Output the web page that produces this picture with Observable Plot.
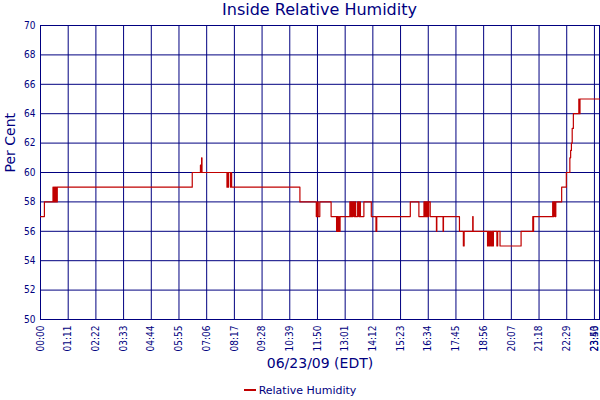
<!DOCTYPE html>
<html><head><meta charset="utf-8">
<script src="https://cdn.jsdelivr.net/npm/d3@7"></script>
<script src="https://cdn.jsdelivr.net/npm/@observablehq/plot@0.6"></script>
<style>
body{margin:0;background:#fff;font-family:"DejaVu Sans",sans-serif;color:#000080;}
#wrap{width:600px;height:400px;overflow:hidden;}
#title{height:20px;line-height:20px;font-size:16px;text-align:center;padding-left:39px;box-sizing:border-box;width:600px;}
#legend{height:20px;display:flex;align-items:center;justify-content:center;font-size:11px;width:600px;}
#legend .sw{width:12px;height:2px;background:#c00000;margin-right:3px;}
svg{overflow:visible;display:block}
</style></head>
<body>
<div id="wrap">
<div id="title">Inside Relative Humidity</div>
<div id="chart"></div>
<div id="legend"><span class="sw"></span><span>Relative Humidity</span></div>
</div>
<script>
const times = ["00:00","00:10","00:32","00:33","00:35","00:36","00:38","00:39","00:41","00:42","00:43",
"06:29","06:50","06:52","06:53","06:54","07:58","07:59","08:01","08:02","08:07","08:09","08:10",
"11:05","11:47","11:50","11:52","11:56","12:25","12:39","12:40","12:42","12:44","12:46","12:48",
"13:13","13:15","13:17","13:19","13:21","13:24","13:26","13:28","13:33","13:36","13:38","13:40","13:49",
"14:08","14:20","14:22","15:48","16:10","16:23","16:25","16:26","16:28","16:29","16:31","16:32","16:34","16:35","16:39",
"16:55","16:56","17:12","17:13","17:54","18:04","18:06","18:28","18:29",
"19:06","19:08","19:11","19:13","19:16","19:18","19:20","19:21","19:30","19:32","19:38",
"20:32","21:02","21:03","21:04","21:53","21:54","21:56","21:59","22:01",
"22:16","22:28","22:37","22:39","22:41","22:43","22:46","23:00","23:01","23:03","23:53"];
const humidity = [57,58,59,58,59,58,59,58,59,58,59,
60,60.5,60,61,60,59,60,59,60,59,60,59,
58,57,58,57,58,57,56,57,56,57,56,57,
58,57,58,57,58,57,58,57,58,57,58,57,58,
57,56,57,58,57,58,57,58,57,58,57,58,57,58,57,
56,57,56,57,56,55,56,57,56,
55,56,55,56,55,56,55,56,55,56,55,
56,57,56,57,58,57,58,57,58,
59,60,61,61.5,62,63,64,65,64,65,65];
const tickLabels = ["00:00","01:11","02:22","03:33","04:44","05:55","07:06","08:17","09:28","10:39","11:50","13:01","14:12","15:23","16:34","17:45","18:56","20:07","21:18","22:29","23:40"];
const endLabel = "23:53";
const yTicks = [50,52,54,56,58,60,62,64,66,68,70];

const toMin = s => (+s.slice(0,2))*60 + (+s.slice(3));
const data = times.map((t,i) => ({t: toMin(t), v: humidity[i]}));
const tickMins = tickLabels.map(toMin);
const endMin = toMin(endLabel);
const navy = "#000080";

const chart = Plot.plot({
  width: 600, height: 360,
  marginTop: 5, marginBottom: 61, marginLeft: 40, marginRight: 1,
  style: {fontFamily: "'DejaVu Sans Condensed','DejaVu Sans',sans-serif", fontSize: "10px", color: navy, background: "white", overflow: "visible"},
  x: {domain: [0, endMin]},
  y: {domain: [50, 70]},
  marks: [
    Plot.gridX(tickMins, {stroke: navy, strokeOpacity: 1, strokeWidth: 1}),
    Plot.gridY(yTicks, {stroke: navy, strokeOpacity: 1, strokeWidth: 1}),
    Plot.frame({stroke: navy, strokeWidth: 1}),
    Plot.axisX(tickMins, {tickSize: 0, tickPadding: 6, tickRotate: -90, tickFormat: (d) => tickLabels[tickMins.indexOf(d)], label: null}),
    Plot.axisX([endMin], {tickSize: 0, tickPadding: 6, tickRotate: -90, tickFormat: () => endLabel, label: null, dx: -5}),
    Plot.axisY(yTicks, {tickSize: 0, tickPadding: 5, label: null}),
    Plot.line(data, {x: "t", y: "v", curve: "step-after", stroke: "#c00000", strokeWidth: 1.2}),
    Plot.text(["Per Cent"], {frameAnchor: "left", dx: -30, rotate: -90, fontSize: 14, fill: navy, fontFamily: "DejaVu Sans"}),
    Plot.text(["06/23/09 (EDT)"], {frameAnchor: "bottom", dy: 48, fontSize: 14, fill: navy, fontFamily: "DejaVu Sans"})
  ]
});
document.getElementById("chart").appendChild(chart);
</script>
</body></html>
